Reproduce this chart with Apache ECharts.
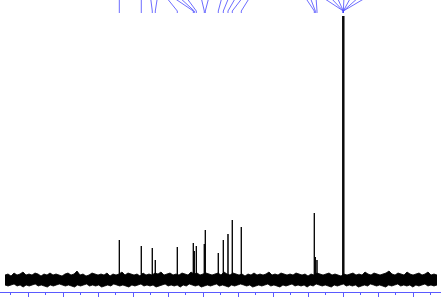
<!DOCTYPE html>
<html>
<head>
<meta charset="utf-8">
<script src="https://cdn.jsdelivr.net/npm/echarts@6/dist/echarts.min.js"></script>
<style>html,body{margin:0;padding:0;background:#fff;overflow:hidden}#c{width:455px;height:297px;margin-left:-7px}</style>
</head>
<body>
<div id="c"></div>
<script>
// Peak positions (ppm) and heights (relative intensity, baseline = 0)
var peakPpm = [103.91, 97.63, 94.49, 93.63, 87.34, 82.77, 82.49, 81.91, 79.63, 79.34, 75.63, 74.20, 72.86, 71.63, 69.06, 48.20, 47.91, 47.43, 40.06, 39.77];
var peakHeight = [40, 34, 32, 20, 33, 37, 29, 34, 36, 50, 27, 40, 46, 60, 53, 67, 23, 20, 264, 264];

// Peak-label leader lines: label anchor (ppm) -> peak (ppm)
var leaderLabelPpm = [103.91, 97.63, 95.00, 93.00, 90.57, 88.71, 86.86, 84.86, 80.57, 78.29, 74.57, 72.57, 70.57, 68.57, 66.57, 50.86, 49.43, 47.71, 46.00, 43.71, 41.71, 39.71, 37.71, 35.43, 33.14];
var leaderPeakPpm  = [103.91, 97.63, 94.49, 93.63, 87.34, 82.77, 82.49, 81.91, 79.63, 79.34, 75.63, 74.20, 72.86, 71.63, 69.06, 48.20, 47.91, 47.43, 39.91, 39.91, 39.91, 39.91, 39.91, 39.91, 39.91];

// Baseline noise envelope (upper / lower), sampled across the spectral window
var noiseStartPpm = 136.57, noiseEndPpm = 13.14;
var noiseUpper = [5,6,4,7,5,6,8,5,6,5,7,6,4,6,5,7,5,6,5,4,6,7,5,6,9,5,6,4,5,7,6,5,6,5,7,4,6,5,6,8,5,7,6,5,6,4,7,5,6,5,7,6,8,5,6,7,5,6,5,7,6,5,8,6,7,5,6,7,6,5,6,7,5,8,6,5,7,6,5,6,4,6,5,7,5,6,5,6,8,5,6,5,7,6,5,6,5,7,6,5,6,4,6,5,7,6,5,6,7,5,6,5,4,6,5,6,7,5,6,5,8,6,5,7,6,5,6,7,9,6,5,7,6,5,8,6,5,6,7,5,6,8,5,6,5];
var noiseLower = [-5,-6,-5,-4,-6,-5,-7,-5,-6,-5,-4,-6,-5,-6,-7,-5,-6,-5,-4,-5,-6,-5,-6,-7,-5,-6,-5,-4,-6,-5,-6,-5,-7,-6,-5,-6,-4,-5,-6,-5,-6,-7,-5,-6,-5,-4,-6,-5,-6,-5,-7,-6,-5,-4,-6,-5,-6,-5,-7,-5,-6,-4,-5,-6,-5,-7,-6,-5,-6,-5,-4,-6,-5,-6,-7,-5,-6,-5,-4,-5,-6,-5,-7,-6,-5,-6,-5,-4,-6,-5,-6,-7,-5,-6,-5,-4,-6,-5,-6,-5,-7,-5,-6,-4,-5,-6,-5,-6,-7,-5,-6,-5,-4,-6,-5,-6,-5,-7,-6,-5,-6,-4,-5,-6,-5,-6,-7,-5,-6,-5,-4,-6,-5,-6,-5,-7,-5,-6,-5,-4,-6,-5,-6,-5];

function envelope(vals) {
  var out = [], n = vals.length;
  for (var i = 0; i < n; i++) {
    out.push([noiseStartPpm + (noiseEndPpm - noiseStartPpm) * i / (n - 1), vals[i]]);
  }
  return out;
}

var peakData = [];
for (var i = 0; i < peakPpm.length; i++) {
  peakData.push([peakPpm[i], 0], [peakPpm[i], peakHeight[i]], [peakPpm[i], 0], '-');
}

var leaderData = [];
for (var j = 0; j < leaderLabelPpm.length; j++) {
  leaderData.push({coords: [[leaderLabelPpm[j], 283], [leaderPeakPpm[j], 269], [leaderPeakPpm[j], 267]]});
}

var chart = echarts.init(document.getElementById('c'), null, {renderer: 'canvas'});
chart.setOption({
  animation: false,
  backgroundColor: '#ffffff',
  grid: {left: 0, right: 0, top: 0, bottom: 5},
  xAxis: {
    type: 'value', min: 10, max: 140, interval: 10, inverse: true,
    axisLine: {show: true, onZero: false, lineStyle: {color: '#5a5aff', width: 1}},
    axisTick: {show: true, length: 5, lineStyle: {color: '#5a5aff'}},
    minorTick: {show: true, splitNumber: 2, length: 3, lineStyle: {color: '#5a5aff'}},
    axisLabel: {show: false},
    splitLine: {show: false}
  },
  yAxis: {type: 'value', min: -12, max: 280, show: false},
  series: [
    {type: 'line', data: envelope(noiseUpper), symbol: 'none', lineStyle: {color: '#000', width: 0.8}, areaStyle: {color: '#000', opacity: 1}, z: 2},
    {type: 'line', data: envelope(noiseLower), symbol: 'none', lineStyle: {color: '#000', width: 0.8}, areaStyle: {color: '#000', opacity: 1}, z: 2},
    {type: 'line', data: peakData, symbol: 'none', connectNulls: false, lineStyle: {color: '#000', width: 1}, z: 3},
    {type: 'lines', coordinateSystem: 'cartesian2d', polyline: true, clip: false, data: leaderData, lineStyle: {color: '#4848ff', width: 1, opacity: 0.8}, z: 4}
  ]
});
</script>
</body>
</html>
